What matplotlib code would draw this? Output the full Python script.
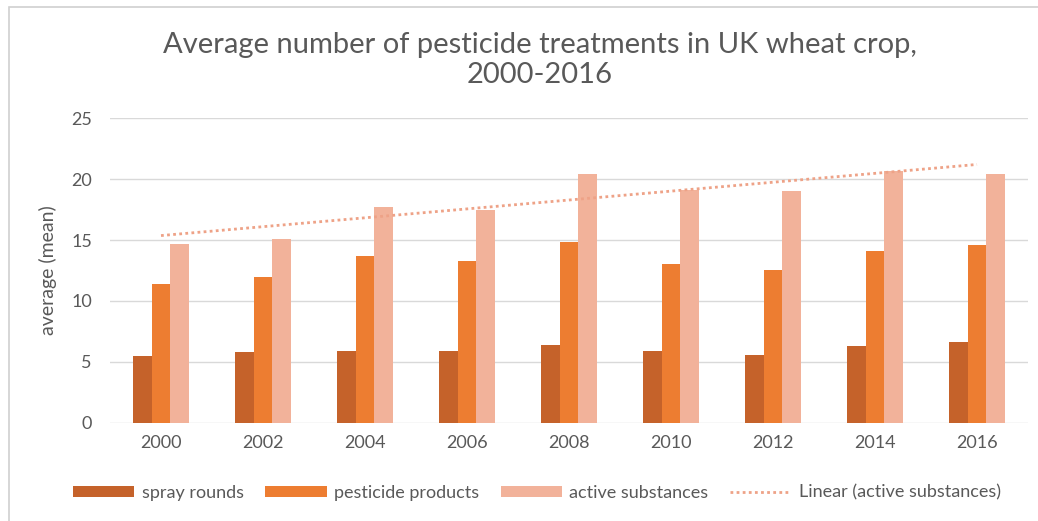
import matplotlib

matplotlib.use("Agg")
import matplotlib.pyplot as plt
import numpy as np
from matplotlib.patches import Rectangle

years = ["2000", "2002", "2004", "2006", "2008", "2010", "2012", "2014", "2016"]
spray_rounds = [5.5, 5.8, 5.9, 5.9, 6.4, 5.9, 5.6, 6.3, 6.6]
pesticide_products = [11.4, 12.0, 13.7, 13.3, 14.8, 13.0, 12.5, 14.1, 14.6]
active_substances = [14.7, 15.1, 17.7, 17.5, 20.4, 19.1, 19.0, 20.7, 20.4]

series = [
    ("spray rounds", spray_rounds, "#C5622A"),
    ("pesticide products", pesticide_products, "#ED7D31"),
    ("active substances", active_substances, "#F2B29A"),
]

plt.rcParams["font.family"] = ["Lato", "DejaVu Sans"]
TEXT = "#595959"

fig = plt.figure(figsize=(10.38, 5.21), dpi=100)
ax = fig.add_axes([110 / 1038, 1 - 422.7 / 521, 918 / 1038, 304.4 / 521])

x = np.arange(len(years))
w = 0.185
handles = []
for i, (name, vals, col) in enumerate(series):
    handles.append(ax.bar(x + (i - 1) * w, vals, w, color=col, label=name, zorder=2))

# linear trendline through the active substances series
slope, icpt = np.polyfit(x, active_substances, 1)
trend, = ax.plot(x, slope * x + icpt, ls=(0, (1, 1.2)), lw=2, color="#EEA287",
                 label="Linear (active substances)", zorder=3)
handles.append(trend)

ax.set_xlim(-0.5, len(years) - 0.5)
ax.set_ylim(0, 25)
ax.set_yticks(range(0, 26, 5))
ax.set_xticks(x, years)
ax.grid(axis="y", color="#D9D9D9", lw=1, zorder=0)
for s in ax.spines.values():
    s.set_visible(False)
ax.tick_params(length=0, labelsize=13, colors=TEXT, pad=9)
ax.tick_params(axis="y", pad=13)
ax.set_ylabel("average (mean)", fontsize=14, color=TEXT, labelpad=10)

fig.text(0.52, 1 - 60 / 521, "Average number of pesticide treatments in UK wheat crop,\n2000-2016",
         ha="center", va="center", fontsize=21, color=TEXT, linespacing=1.2)

ax.legend(handles=handles, loc="center", bbox_to_anchor=(0.465, -0.23), ncol=4,
          frameon=False, fontsize=13, labelcolor=TEXT, handlelength=3.4,
          handleheight=0.6, handletextpad=0.4, columnspacing=1.2)

# chart frame
fig.patches.append(Rectangle((9 / 1038, -0.1), 1.2, 1 - 7 / 521 + 0.1,
                             transform=fig.transFigure, fill=False,
                             edgecolor="#D0D0D0", lw=1.2))

fig.savefig("out.png", dpi=100)
